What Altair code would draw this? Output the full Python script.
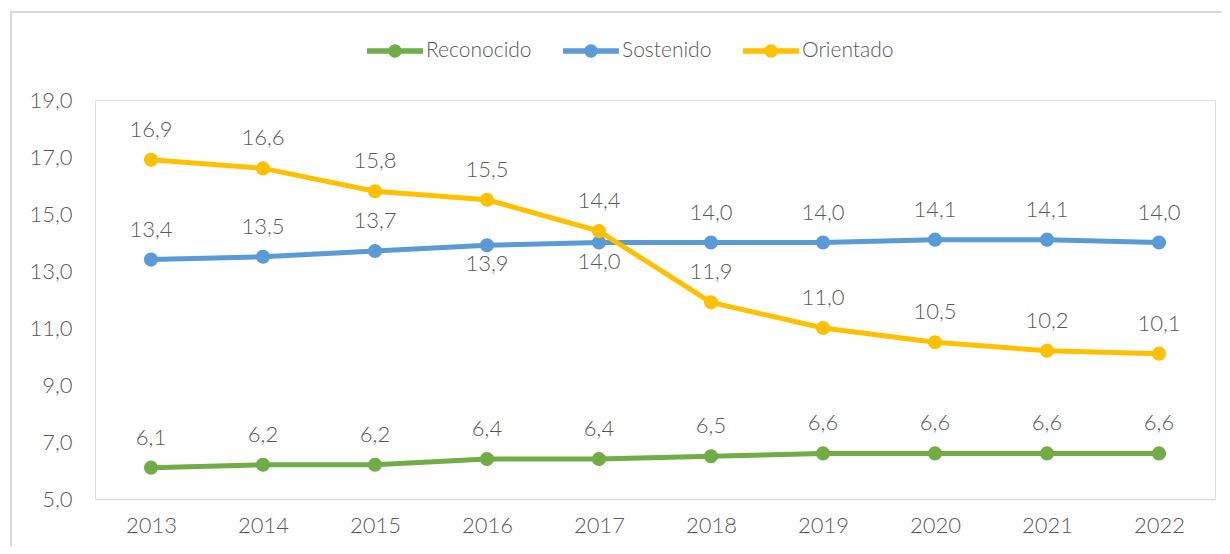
import altair as alt
import pandas as pd

years = ["2013", "2014", "2015", "2016", "2017", "2018", "2019", "2020", "2021", "2022"]
reconocido = [6.1, 6.2, 6.2, 6.4, 6.4, 6.5, 6.6, 6.6, 6.6, 6.6]
sostenido = [13.4, 13.5, 13.7, 13.9, 14.0, 14.0, 14.0, 14.1, 14.1, 14.0]
orientado = [16.9, 16.6, 15.8, 15.5, 14.4, 11.9, 11.0, 10.5, 10.2, 10.1]
series_names = ["Reconocido", "Sostenido", "Orientado"]
series_colors = ["#70AD47", "#5B9BD5", "#FFC000"]
labels_below = [("Sostenido", "2016"), ("Sostenido", "2017")]

rows = []
for name, vals in zip(series_names, [reconocido, sostenido, orientado]):
    for y, v in zip(years, vals):
        rows.append({"year": y, "series": name, "value": v,
                     "label": f"{v:.1f}".replace(".", ","),
                     "below": (name, y) in labels_below})
df = pd.DataFrame(rows)

FONT = "Lato"
WEIGHT = 300
GRAY = "#595959"
FS = 22

x = alt.X("year:O", title=None, sort=years,
          axis=alt.Axis(labelAngle=0, labelFontSize=FS, labelColor=GRAY, labelFont=FONT,
                        labelFontWeight=WEIGHT,
                        labelPadding=16, ticks=False, domainColor="#D9D9D9", domainWidth=1.5,
                        grid=False))
y = alt.Y("value:Q", title=None,
          scale=alt.Scale(domain=[5, 19], nice=False, zero=False),
          axis=alt.Axis(values=[5, 7, 9, 11, 13, 15, 17, 19], labelFontSize=FS, labelColor=GRAY,
                        labelFont=FONT, labelFontWeight=WEIGHT, labelPadding=23, ticks=False,
                        domain=False, grid=False,
                        labelExpr="replace(format(datum.value, '.1f'), '.', ',')"))

legend_symbol = ("M-1,-0.1 L1,-0.1 L1,0.1 L-1,0.1 Z "
                 "M0.24,0 A0.24,0.24 0 1,1 -0.24,0 A0.24,0.24 0 1,1 0.24,0 Z")
legend = alt.Legend(title=None, orient="none", direction="horizontal",
                    legendX=272, legendY=-77,
                    symbolType=legend_symbol, symbolSize=3136,
                    symbolStrokeWidth=0, symbolOpacity=1,
                    labelFontSize=21, labelFont=FONT, labelFontWeight=WEIGHT, labelColor=GRAY,
                    labelOffset=3, columnPadding=31)
color = alt.Color("series:N", scale=alt.Scale(domain=series_names, range=series_colors),
                  sort=series_names, legend=legend)

base = alt.Chart(df)

lines = base.mark_line(strokeWidth=5).encode(x=x, y=y, color=color, detail="series:N")
points = base.mark_point(filled=True, size=200, opacity=1).encode(x=x, y=y, color=color)
text_above = base.transform_filter("!datum.below").mark_text(
    fontSize=FS, font=FONT, fontWeight=WEIGHT, color=GRAY, baseline="middle", dy=-30
).encode(x=x, y=y, text="label:N")
text_below = base.transform_filter("datum.below").mark_text(
    fontSize=FS, font=FONT, fontWeight=WEIGHT, color=GRAY, baseline="middle", dy=19
).encode(x=x, y=y, text="label:N")

frame = alt.Chart(df).transform_filter("datum.year == '2013' && datum.series == 'Reconocido'").mark_rect(
    fill="transparent", stroke="#D9D9D9", strokeWidth=2
).encode(x=alt.value(-84), x2=alt.value(1160), y=alt.value(-88), y2=alt.value(480))

chart = alt.layer(frame, lines, points, text_above, text_below).properties(
    width=1120, height=399,
    autosize=alt.AutoSizeParams(type="none"),
    padding={"left": 87, "top": 92, "right": 7, "bottom": 47},
).configure_view(stroke="transparent", strokeWidth=0).configure(background="white")

chart.save("out.html", embed_options={"renderer": "svg", "actions": False})
